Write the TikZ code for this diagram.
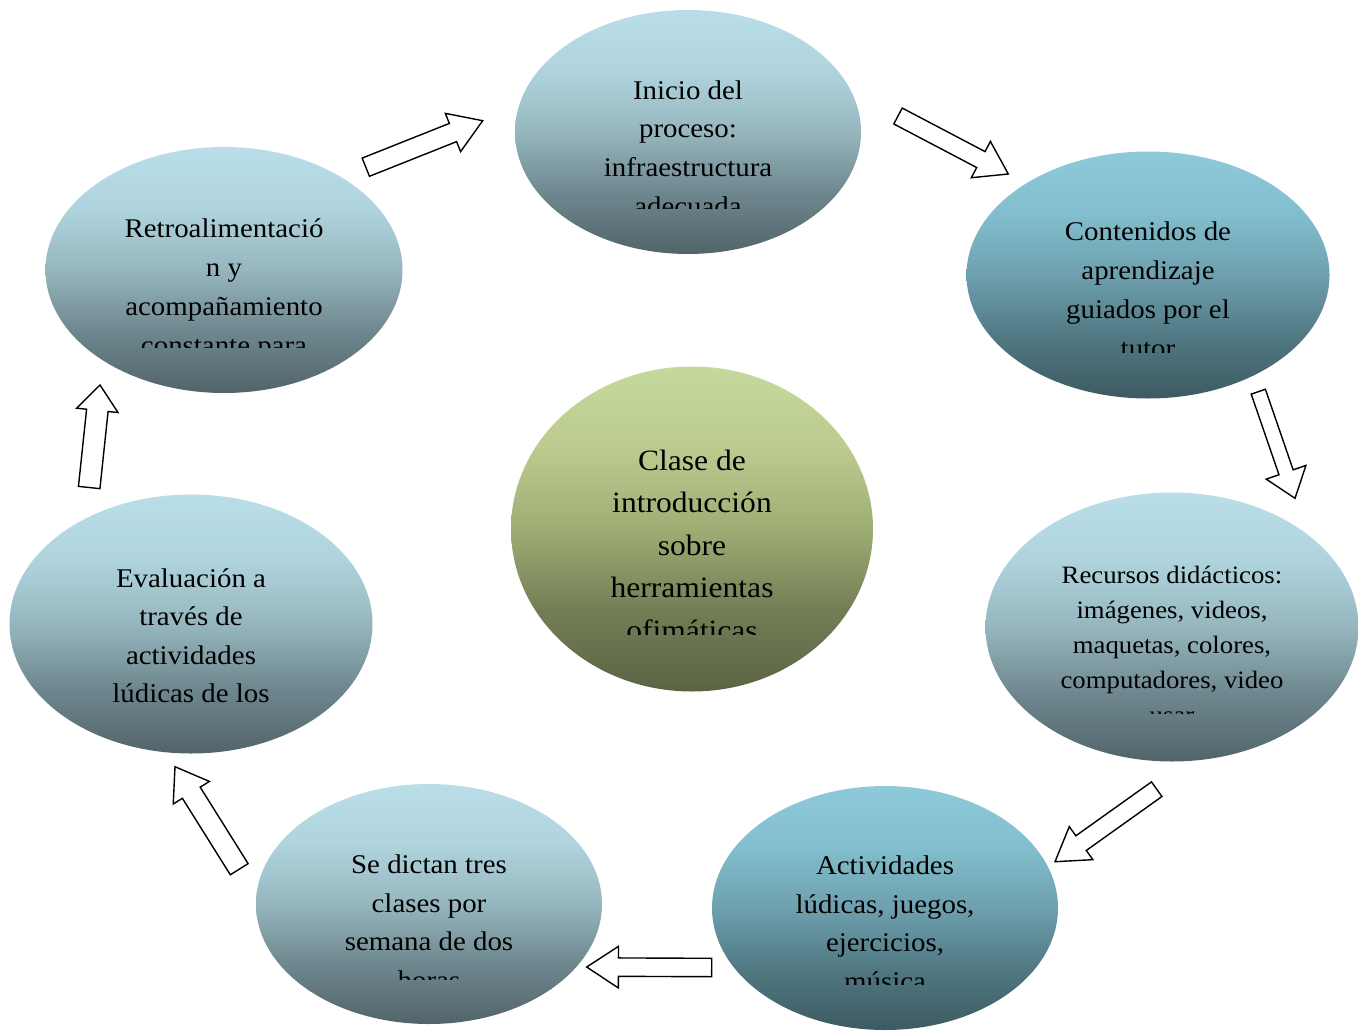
\documentclass[tikz,border=0pt]{standalone}
\usepackage{fontspec}
\setmainfont{Liberation Serif}[FakeStretch=1.07]
\usetikzlibrary{shapes.geometric,calc}
\pgfdeclareverticalshading{blueball}{100bp}{%
 rgb(0bp)=(0.322,0.392,0.416);rgb(25bp)=(0.322,0.392,0.416);
 rgb(37.5bp)=(0.431,0.529,0.557);rgb(50bp)=(0.588,0.714,0.745);
 rgb(62.5bp)=(0.686,0.831,0.871);rgb(75bp)=(0.725,0.871,0.910);rgb(100bp)=(0.725,0.871,0.910)}
\pgfdeclareverticalshading{cyanball}{100bp}{%
 rgb(0bp)=(0.243,0.353,0.384);rgb(25bp)=(0.243,0.353,0.384);
 rgb(37.5bp)=(0.314,0.471,0.510);rgb(50bp)=(0.431,0.627,0.686);
 rgb(62.5bp)=(0.510,0.745,0.804);rgb(75bp)=(0.561,0.792,0.855);rgb(100bp)=(0.561,0.792,0.855)}
\pgfdeclareverticalshading{greenball}{100bp}{%
 rgb(0bp)=(0.353,0.392,0.267);rgb(25bp)=(0.353,0.392,0.267);
 rgb(37.5bp)=(0.451,0.490,0.333);rgb(50bp)=(0.620,0.680,0.455);
 rgb(62.5bp)=(0.735,0.795,0.560);rgb(75bp)=(0.776,0.851,0.612);rgb(100bp)=(0.776,0.851,0.612)}
\tikzset{
 bub/.style={ellipse, inner sep=0pt, draw=none},
 lbl/.style={anchor=base, inner sep=0pt, text=black},
 barrow/.style={draw=black, fill=white, line width=1.4pt, line join=miter},
}
\newcommand\bubbletext[6]{%
 \foreach \t [count=\i] in {#6}
  \node[lbl, font=\fontsize{#5}{#5}\selectfont] (#1-\i) at (#2, {#3+(\i-1)*#4}) {\t};}
\newcommand\blockarrow[6]{%
 \coordinate (#1n) at ($(#3)!#6!(#2)$);
 \draw[barrow] ($(#2)!#4!90:(#3)$) -- ($(#1n)!#4!90:(#3)$) -- ($(#1n)!#5!90:(#3)$)
  -- (#3) -- ($(#1n)!#5!-90:(#3)$) -- ($(#1n)!#4!-90:(#3)$) -- ($(#2)!#4!-90:(#3)$) -- cycle;}
\begin{document}
\begin{tikzpicture}[x=1pt,y=-1pt]
\fill[white] (0,0) rectangle (1359,1030);
\useasboundingbox (0,0) rectangle (1359,1030);
% bubbles
\node[bub, shading=blueball, minimum width=346pt, minimum height=244pt] (ini) at (688,132) {};
\node[bub, shading=cyanball, minimum width=363pt, minimum height=247pt] (con) at (1148,275) {};
\node[bub, shading=blueball, minimum width=373pt, minimum height=269pt] (rec) at (1172,627) {};
\node[bub, shading=cyanball, minimum width=346pt, minimum height=244pt] (act) at (885,908) {};
\node[bub, shading=blueball, minimum width=346pt, minimum height=240pt] (dic) at (429,904) {};
\node[bub, shading=blueball, minimum width=363pt, minimum height=259pt] (eva) at (191,624) {};
\node[bub, shading=blueball, minimum width=357pt, minimum height=246pt] (ret) at (224,270) {};
\node[bub, shading=greenball, minimum width=362pt, minimum height=325pt] (cla) at (692,529) {};
% texts (clipped as in the original)
\begin{scope}\clip (500,60) rectangle (880,208.5);
\bubbletext{tini}{688}{99.5}{38.5}{27}{Inicio del,proceso:,infraestructura,adecuada}
\end{scope}
\begin{scope}\clip (960,200) rectangle (1340,352);
\bubbletext{tcon}{1148}{240.7}{39}{27}{Contenidos de,aprendizaje,guiados por el,tutor}
\end{scope}
\begin{scope}\clip (980,550) rectangle (1359,713.5);
\bubbletext{trec}{1172}{583.3}{35}{25}{Recursos didácticos:,{imágenes, videos,},{maquetas, colores,},{computadores, video},usar}
\end{scope}
\begin{scope}\clip (700,840) rectangle (1070,984);
\bubbletext{tact}{885}{874.5}{38.7}{27}{Actividades,{lúdicas, juegos,},{ejercicios,},música}
\end{scope}
\begin{scope}\clip (250,840) rectangle (610,979);
\bubbletext{tdic}{429}{873.3}{38.7}{27}{Se dictan tres,clases por,semana de dos,horas}
\end{scope}
\begin{scope}\clip (0,550) rectangle (380,715);
\bubbletext{teva}{191}{587}{38.6}{27}{Evaluación a,través de,actividades,lúdicas de los}
\end{scope}
\begin{scope}\clip (40,200) rectangle (410,347);
\bubbletext{tret}{224}{237.7}{38.8}{27}{Retroalimentació,n y,acompañamiento,constante para}
\end{scope}
\begin{scope}\clip (500,420) rectangle (880,634);
\bubbletext{tcla}{692}{470}{42.5}{29.5}{Clase de,introducción,sobre,herramientas,ofimáticas}
\end{scope}
% block arrows
\coordinate (a1s) at (365.8,167.2); \coordinate (a1e) at (482.7,120.7);
\coordinate (a2s) at (898,116);     \coordinate (a2e) at (1008.3,174);
\coordinate (a3s) at (1258.3,391.7);\coordinate (a3e) at (1295,498.3);
\coordinate (a4s) at (1156.7,789.2);\coordinate (a4e) at (1055,861.7);
\coordinate (a5s) at (711.7,967.5); \coordinate (a5e) at (586.7,967);
\coordinate (a6s) at (239.2,869.2); \coordinate (a6e) at (175,766.7);
\coordinate (a7s) at (89.2,487.5);  \coordinate (a7e) at (100,385);
\blockarrow{a1}{a1s}{a1e}{9.8pt}{20.6pt}{32pt}
\blockarrow{a2}{a2s}{a2e}{9pt}{20.5pt}{31pt}
\blockarrow{a3}{a3s}{a3e}{7.5pt}{21pt}{27.5pt}
\blockarrow{a4}{a4s}{a4e}{9pt}{20.3pt}{32pt}
\blockarrow{a5}{a5s}{a5e}{9.2pt}{20.8pt}{31.7pt}
\blockarrow{a6}{a6s}{a6e}{10.5pt}{21.3pt}{30.7pt}
\blockarrow{a7}{a7s}{a7e}{10.8pt}{20.8pt}{25.5pt}
\end{tikzpicture}
\end{document}
